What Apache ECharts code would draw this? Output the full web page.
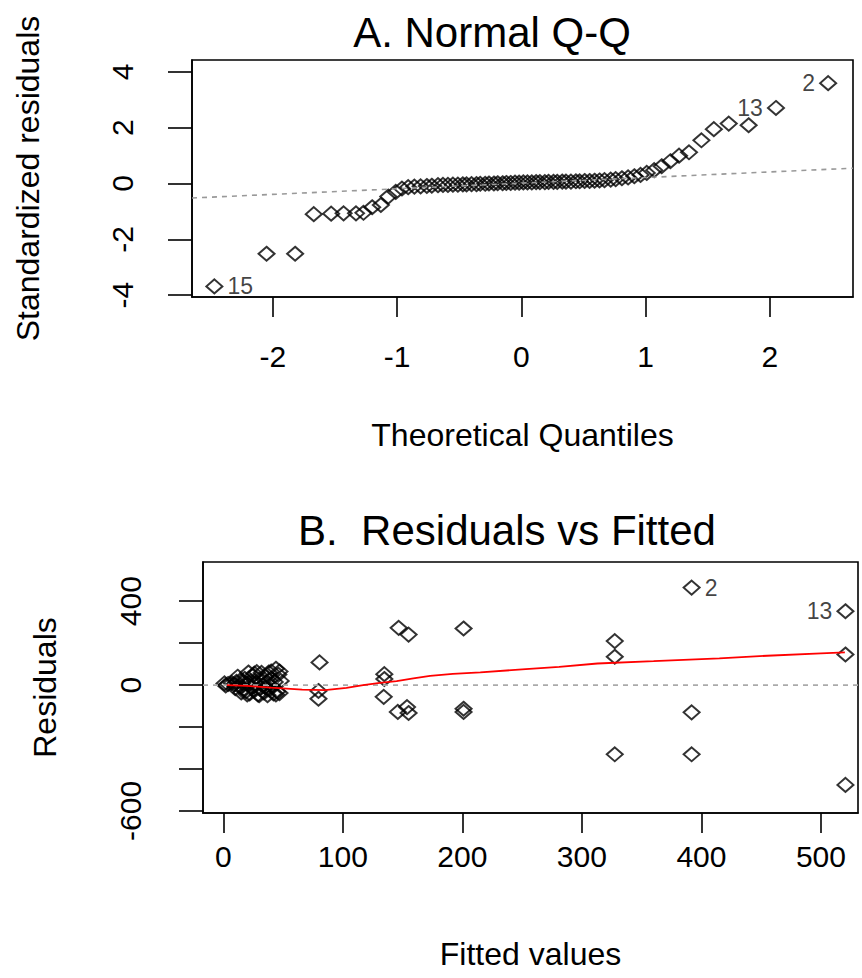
<!DOCTYPE html>
<html><head><meta charset="utf-8">
<script src="https://cdn.jsdelivr.net/npm/echarts@6/dist/echarts.min.js"></script>
<style>html,body{margin:0;padding:0;background:#fff}#c{width:862px;height:978px}</style>
</head><body><div id="c"></div>
<script>
// ---- Panel A: Normal Q-Q ----
const qqX = [-2.47,-2.05,-1.82,-1.67,-1.53,-1.43,-1.33,-1.27,-1.20,-1.13,-1.07,-1.01,-0.96,-0.91,-0.86,-0.81,-0.76,-0.72,-0.67,-0.63,-0.59,-0.55,-0.51,-0.47,-0.44,-0.40,-0.36,-0.33,-0.29,-0.26,-0.22,-0.19,-0.15,-0.12,-0.085,-0.05,-0.017,
  0.017,0.05,0.085,0.12,0.15,0.19,0.22,0.26,0.29,0.33,0.36,0.40,0.44,0.47,0.51,0.55,0.59,0.63,0.67,0.72,0.76,0.81,0.86,0.91,0.96,1.01,1.07,1.13,1.20,1.27,1.35,1.45,1.55,1.67,1.83,2.05,2.47];
const qqY = [-3.69,-2.52,-2.52,-1.10,-1.08,-1.07,-1.07,-1.05,-0.85,-0.77,-0.47,-0.30,-0.18,-0.13,-0.11,-0.10,-0.09,-0.08,-0.06,-0.05,-0.05,-0.04,-0.04,-0.03,-0.03,-0.02,-0.02,-0.01,-0.01,0.00,0.00,0.01,0.01,0.02,0.02,0.03,0.03,
  0.04,0.04,0.04,0.05,0.05,0.05,0.06,0.06,0.06,0.07,0.07,0.07,0.08,0.08,0.09,0.09,0.10,0.11,0.12,0.14,0.16,0.19,0.22,0.26,0.31,0.38,0.48,0.62,0.80,1.00,1.12,1.55,1.95,2.15,2.09,2.71,3.60];
const qqLineX = [-2.65, 2.67];
const qqLineY = [-0.52, 0.55];
const qqLabelIdx = [0, 72, 73];
const qqLabelText = ['15', '13', '2'];
const qqLabelPos = ['right', 'left', 'left'];
const qqXTicks = [-2, -1, 0, 1, 2];
const qqYTicks = [-4, -2, 0, 2, 4];

// ---- Panel B: Residuals vs Fitted ----
const fitted = [80.5,79.6,79.6,146.7,155,134.7,134.7,134.2,146,153.7,155,201,201,201,327.5,327.5,327.5,391.8,391.8,391.8,520.5,520.5,520.5,
  1,4,7,9,11,13,14,16,17,18,19,20,21,22,23,24,25,26,27,28,29,30,31,32,33,34,35,36,37,38,39,40,41,42,43,44,45,46,47,48,12,15,20,26,30,35,40,44,47,10,2];
const resid = [108,-28,-65,273,241,52,29,-56,-128,-105,-133,270,-113,-128,210,135,-330,465,-130,-330,352,146,-476,
  8,5,10,3,15,-5,22,10,-18,30,-30,5,60,-40,18,-10,45,-25,8,62,-45,25,-15,58,0,-35,40,12,-48,60,-20,30,-5,-40,15,78,-30,50,-38,20,40,-35,-45,55,-48,-10,65,-45,65,-15,-2];
const smoothX = [3,20,40,66,85,103,117,131,145,159,173,192,215,253,281,313,360,415,455,500,520];
const smoothY = [0,-4,-12,-22,-24,-13,0,11,19,32,44,53,61,76,87,103,114,127,140,151,156];
const zeroLineX = [-17, 531];
const zeroLineY = [0, 0];
const rvfLabelIdx = [17, 20];
const rvfLabelText = ['2', '13'];
const rvfLabelPos = ['right', 'left'];
const rvfXTicks = [0, 100, 200, 300, 400, 500];
const rvfYTicks = [-600, -400, -200, 0, 200, 400];
const rvfYLabels = [-600, 0, 400];

const FONT = "'Liberation Sans', Arial, sans-serif";
const labelStyle = {fontSize: 23, color: '#111', fontFamily: FONT, distance: 4};

function pts(xs, ys, idx, txt, pos) {
  return xs.map((x, i) => {
    const k = idx.indexOf(i);
    const item = {value: [x, ys[i]]};
    if (k >= 0) item.label = Object.assign({show: true, formatter: txt[k], position: pos[k]}, labelStyle);
    return item;
  });
}
function zip(xs, ys) { return xs.map((x, i) => [x, ys[i]]); }

const tickLabel = {fontSize: 30, color: '#000', fontFamily: FONT};
const axisBase = {
  axisLine: {show: true, onZero: false, lineStyle: {color: '#000', width: 1.6}},
  splitLine: {show: false},
  nameTextStyle: {fontSize: 32, color: '#000', fontFamily: FONT}
};
const scatterStyle = {color: 'rgba(0,0,0,0)', borderColor: '#000', borderWidth: 2};

const chart = echarts.init(document.getElementById('c'), null, {renderer: 'svg'});
chart.setOption({
  animation: false,
  backgroundColor: '#fff',
  graphic: [
    {type: 'text', x: 492, y: 32, style: {text: 'A. Normal Q-Q', font: "42px 'Liberation Sans', Arial", fill: '#000', textAlign: 'center', textVerticalAlign: 'middle'}},
    {type: 'text', x: 507, y: 530, style: {text: 'B.  Residuals vs Fitted', font: "42px 'Liberation Sans', Arial", fill: '#000', textAlign: 'center', textVerticalAlign: 'middle'}}
  ],
  grid: [
    {left: 192, top: 60, width: 661, height: 237, show: true, borderColor: '#000', borderWidth: 1.6, backgroundColor: 'transparent'},
    {left: 203, top: 562, width: 655, height: 251, show: true, borderColor: '#000', borderWidth: 1.6, backgroundColor: 'transparent'}
  ],
  xAxis: [
    Object.assign({}, axisBase, {type: 'value', gridIndex: 0, min: -2.65, max: 2.67,
      name: 'Theoretical Quantiles', nameLocation: 'middle', nameGap: 122,
      axisTick: {show: true, length: 20, lineStyle: {color: '#000', width: 1.6}, customValues: qqXTicks},
      axisLabel: Object.assign({margin: 44, customValues: qqXTicks}, tickLabel)}),
    Object.assign({}, axisBase, {type: 'value', gridIndex: 1, min: -17, max: 531,
      name: 'Fitted values', nameLocation: 'middle', nameGap: 125,
      axisTick: {show: true, length: 20, lineStyle: {color: '#000', width: 1.6}, customValues: rvfXTicks},
      axisLabel: Object.assign({margin: 28, customValues: rvfXTicks}, tickLabel)})
  ],
  yAxis: [
    Object.assign({}, axisBase, {type: 'value', gridIndex: 0, min: -4.07, max: 4.43,
      name: 'Standardized residuals', nameLocation: 'middle', nameGap: 148,
      axisTick: {show: true, length: 24, lineStyle: {color: '#000', width: 1.6}, customValues: qqYTicks},
      axisLabel: Object.assign({margin: 55, rotate: 90, customValues: qqYTicks}, tickLabel)}),
    Object.assign({}, axisBase, {type: 'value', gridIndex: 1, min: -610, max: 587,
      name: 'Residuals', nameLocation: 'middle', nameGap: 142,
      axisTick: {show: true, length: 24, lineStyle: {color: '#000', width: 1.6}, customValues: rvfYTicks},
      axisLabel: Object.assign({margin: 58, rotate: 90, customValues: rvfYLabels}, tickLabel)})
  ],
  series: [
    {type: 'line', xAxisIndex: 0, yAxisIndex: 0, data: zip(qqLineX, qqLineY), symbol: 'none', silent: true,
      lineStyle: {color: '#999', width: 1.6, type: [5, 5]}},
    {type: 'scatter', xAxisIndex: 0, yAxisIndex: 0, symbol: 'diamond', symbolSize: [16, 14],
      itemStyle: scatterStyle, data: pts(qqX, qqY, qqLabelIdx, qqLabelText, qqLabelPos)},
    {type: 'line', xAxisIndex: 1, yAxisIndex: 1, data: zip(zeroLineX, zeroLineY), symbol: 'none', silent: true,
      lineStyle: {color: '#aaa', width: 1.6, type: [5, 5]}},
    {type: 'scatter', xAxisIndex: 1, yAxisIndex: 1, symbol: 'diamond', symbolSize: [16, 14],
      itemStyle: scatterStyle, data: pts(fitted, resid, rvfLabelIdx, rvfLabelText, rvfLabelPos)},
    {type: 'line', xAxisIndex: 1, yAxisIndex: 1, data: zip(smoothX, smoothY), symbol: 'none', silent: true,
      lineStyle: {color: '#ff0000', width: 1.8}}
  ]
});
</script>
</body></html>
